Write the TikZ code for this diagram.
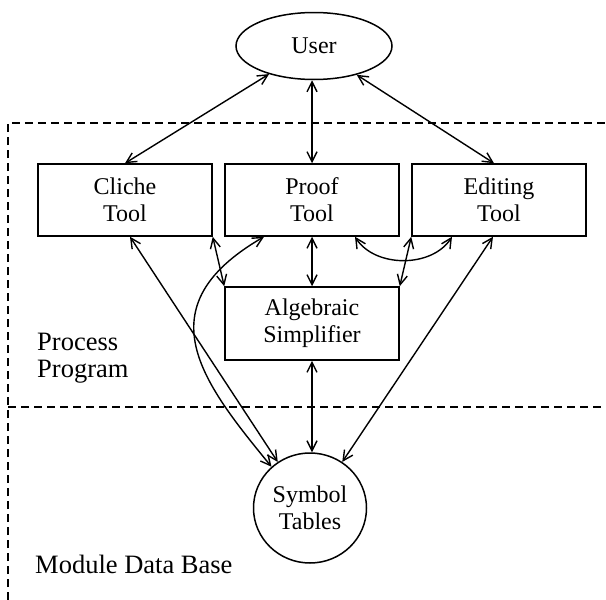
\documentclass[tikz,border=0pt]{standalone}
\usepackage{fontspec}
\setmainfont{Liberation Serif}
\usetikzlibrary{arrows.meta,shapes.geometric}
\begin{document}
\begin{tikzpicture}[x=1pt,y=-1pt,
  box/.style={draw,line width=1.5pt,minimum width=174pt,minimum height=72pt,inner sep=0pt,align=center,font=\fontsize{24}{27}\selectfont},
  oval/.style={ellipse,draw,line width=1.5pt,inner sep=0pt,align=center,font=\fontsize{24}{27}\selectfont},
  conn/.style={line width=1.4pt,{Straight Barb[length=10pt,width=10pt]}-{Straight Barb[length=10pt,width=10pt]}},
  region/.style={line width=1.3pt,dash pattern=on 8pt off 5pt},
  lbl/.style={anchor=base west,inner sep=0pt,font=\fontsize{26.5}{26.5}\selectfont}]
\useasboundingbox (0,0) rectangle (606,600);
% regions
\draw[region] (8,600) -- (8,123) -- (606,123);
\draw[region] (8,407) -- (606,407);
% nodes
\node[oval,minimum width=156pt,minimum height=67pt] (user) at (314,46) {User};
\node[box] (cliche) at (125,200) {Cliche\\Tool};
\node[box] (proof) at (312,200) {Proof\\Tool};
\node[box] (editing) at (499,200) {Editing\\Tool};
\node[box,minimum height=73pt] (alg) at (312,323.5) {Algebraic\\Simplifier};
\node[oval,minimum width=113pt,minimum height=110pt] (sym) at (310,508) {Symbol\\Tables};
\node[lbl] (proc) at (37,350) {Process};
\node[lbl] (prog) at (37,377) {Program};
\node[lbl] (mdb) at (35,573) {Module Data Base};
% connectors
\draw[conn] (user.212) -- (cliche.north);
\draw[conn] (user.south -| proof.north) -- (proof.north);
\draw[conn] (user.326) -- ([xshift=-5pt]editing.north);
\draw[conn] (cliche.south east) -- (alg.north west);
\draw[conn] (proof.south) -- (alg.north);
\draw[conn] (editing.south west) -- (alg.north east);
\draw[conn] ([xshift=43pt]proof.south) .. controls (375,268) and (432,268) .. ([xshift=-47pt]editing.south);
\draw[conn] ([xshift=5pt]cliche.south) -- (sym.125);
\draw[conn] ([xshift=-48pt]proof.south) .. controls (143,307) and (202,382) .. (sym.133);
\draw[conn] (alg.south) -- (alg.south |- sym.north);
\draw[conn] ([xshift=-6pt]editing.south) -- (sym.55);
\end{tikzpicture}
\end{document}
